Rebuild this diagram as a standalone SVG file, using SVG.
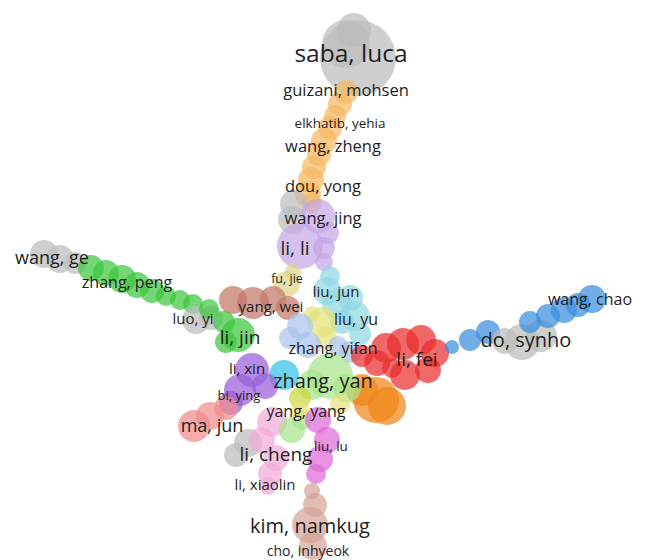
<svg xmlns="http://www.w3.org/2000/svg" width="646" height="560" viewBox="0 0 646 560">
<defs><filter id="soft" x="-10%" y="-10%" width="120%" height="120%"><feGaussianBlur stdDeviation="0.7"/></filter></defs>
<style>
circle{fill-opacity:0.72;stroke:none}
.gy{fill:#bdbdbd}.or{fill:#f5b862}.pl{fill:#c4a6e6}.pd{fill:#9a60d8}.gr{fill:#3ec63e}
.br{fill:#c27868}.cy{fill:#90d8e4}.ye{fill:#e6e27a}.lb{fill:#aac4ec}.rd{fill:#ea2e2c}
.bo{fill:#f0861a}.bl{fill:#3a8ede}.sa{fill:#f08c8c}.cb{fill:#30c4e4}.lg{fill:#a8e48c}
.pk{fill:#f2aad8}.mg{fill:#e06ad8}.tn{fill:#d4a498}.kh{fill:#dcd68a}.yg{fill:#c8d840}
text{font-family:"Open Sans","Noto Sans","Liberation Sans",sans-serif;fill:#1e1e1e;text-anchor:middle}
</style>
<g id="connectors"/>
<g id="bubbles" filter="url(#soft)">
<g id="node-saba-luca">
<circle class="gy" cx="354" cy="30" r="17"/><circle class="gy" cx="358" cy="58" r="38"/><circle class="gy" cx="346" cy="44" r="24"/>
</g>
<g id="node-guizani-mohsen">
<circle class="or" cx="346" cy="92" r="12"/><circle class="or" cx="340" cy="104" r="12"/><circle class="or" cx="335" cy="116" r="11"/>
</g>
<g id="node-elkhatib-yehia"><circle class="or" cx="330" cy="128" r="12"/></g>
<g id="node-wang-zheng">
<circle class="or" cx="324" cy="141" r="13"/><circle class="or" cx="319" cy="154" r="12"/><circle class="or" cx="314" cy="167" r="12"/>
</g>
<g id="node-dou-yong">
<circle class="or" cx="311" cy="180" r="13"/><circle class="or" cx="308" cy="194" r="13"/><circle class="or" cx="312" cy="203" r="10"/>
<circle class="gy" cx="294" cy="204" r="14"/><circle class="gy" cx="292" cy="220" r="14"/>
</g>
<g id="node-wang-jing">
<circle class="pl" cx="318" cy="216" r="17"/><circle class="pl" cx="328" cy="233" r="11"/>
</g>
<g id="node-li-li">
<circle class="pl" cx="300" cy="246" r="23"/><circle class="pl" cx="324" cy="248" r="11"/><circle class="pl" cx="324" cy="262" r="9"/>
</g>
<g id="node-fu-jie"><circle class="kh" cx="287" cy="284" r="13"/><circle class="kh" cx="293" cy="272" r="8"/></g>
<g id="node-liu-jun">
<circle class="cy" cx="330" cy="276" r="10"/><circle class="cy" cx="327" cy="291" r="14"/><circle class="cy" cx="337" cy="304" r="15"/><circle class="cy" cx="350" cy="298" r="13"/>
</g>
<g id="node-liu-yu">
<circle class="cy" cx="355" cy="316" r="15"/><circle class="cy" cx="342" cy="322" r="12"/><circle class="cy" cx="360" cy="334" r="11"/>
<circle class="ye" cx="322" cy="322" r="15"/><circle class="ye" cx="326" cy="338" r="11"/><circle class="ye" cx="312" cy="314" r="8"/>
</g>
<g id="node-yang-wei">
<circle class="br" cx="233" cy="300" r="14"/><circle class="br" cx="253" cy="303" r="16"/><circle class="br" cx="273" cy="299" r="13"/><circle class="br" cx="288" cy="308" r="12"/>
</g>
<g id="node-wang-ge">
<circle class="gy" cx="44" cy="254" r="14"/><circle class="gy" cx="60" cy="259" r="14"/><circle class="gy" cx="75" cy="263" r="11"/>
</g>
<g id="node-zhang-peng">
<circle class="gr" cx="91" cy="268" r="13"/><circle class="gr" cx="106" cy="273" r="13"/><circle class="gr" cx="122" cy="279" r="14"/><circle class="gr" cx="137" cy="285" r="13"/><circle class="gr" cx="152" cy="291" r="12"/><circle class="gr" cx="166" cy="296" r="10"/><circle class="gr" cx="180" cy="300" r="10"/><circle class="gr" cx="193" cy="304" r="10"/>
</g>
<g id="node-luo-yi">
<circle class="gy" cx="196" cy="320" r="14"/><circle class="gy" cx="211" cy="318" r="12"/><circle class="gr" cx="209" cy="309" r="10"/>
</g>
<g id="node-li-jin">
<circle class="gr" cx="238" cy="335" r="17"/><circle class="gr" cx="224" cy="322" r="11"/><circle class="gr" cx="226" cy="342" r="11"/>
</g>
<g id="node-zhang-yifan">
<circle class="lb" cx="300" cy="326" r="13"/><circle class="lb" cx="290" cy="338" r="11"/><circle class="lb" cx="308" cy="345" r="13"/><circle class="lb" cx="350" cy="352" r="11"/><circle class="lb" cx="338" cy="346" r="10"/>
</g>
<g id="node-li-fei">
<circle class="rd" cx="362" cy="356" r="11"/><circle class="rd" cx="377" cy="363" r="13"/><circle class="rd" cx="386" cy="348" r="15"/><circle class="rd" cx="403" cy="344" r="16"/><circle class="rd" cx="421" cy="340" r="15"/><circle class="rd" cx="435" cy="353" r="14"/><circle class="rd" cx="428" cy="370" r="13"/><circle class="rd" cx="405" cy="375" r="15"/><circle class="rd" cx="392" cy="368" r="10"/>
</g>
<g id="node-do-synho">
<circle class="bl" cx="452" cy="347" r="7"/><circle class="bl" cx="470" cy="340" r="11"/><circle class="bl" cx="488" cy="332" r="12"/>
<circle class="gy" cx="505" cy="341" r="13"/><circle class="gy" cx="522" cy="342" r="18"/><circle class="gy" cx="541" cy="336" r="16"/>
</g>
<g id="node-wang-chao">
<circle class="bl" cx="530" cy="322" r="11"/><circle class="bl" cx="548" cy="316" r="12"/><circle class="bl" cx="564" cy="310" r="13"/><circle class="bl" cx="578" cy="305" r="12"/><circle class="bl" cx="592" cy="299" r="14"/>
</g>
<g id="node-zhang-yan">
<circle class="bo" cx="362" cy="390" r="16"/><circle class="bo" cx="376" cy="400" r="23"/><circle class="bo" cx="387" cy="406" r="19"/>
<circle class="cb" cx="284" cy="375" r="15"/>
<circle class="lg" cx="312" cy="385" r="15"/><circle class="lg" cx="330" cy="376" r="23"/><circle class="lg" cx="347" cy="388" r="14"/>
<circle class="yg" cx="300" cy="398" r="11"/><circle class="ye" cx="340" cy="404" r="10"/>
</g>
<g id="node-li-xin">
<circle class="pd" cx="252" cy="370" r="17"/><circle class="pd" cx="265" cy="386" r="13"/>
</g>
<g id="node-bi-ying">
<circle class="pd" cx="240" cy="390" r="16"/><circle class="pd" cx="231" cy="403" r="12"/>
</g>
<g id="node-ma-jun">
<circle class="sa" cx="194" cy="426" r="16"/><circle class="sa" cx="210" cy="416" r="14"/><circle class="sa" cx="226" cy="408" r="12"/>
</g>
<g id="node-yang-yang">
<circle class="pk" cx="272" cy="422" r="15"/><circle class="lg" cx="292" cy="430" r="13"/><circle class="lg" cx="302" cy="420" r="10"/><circle class="ye" cx="300" cy="410" r="9"/>
</g>
<g id="node-li-cheng">
<circle class="gy" cx="248" cy="443" r="14"/><circle class="gy" cx="236" cy="455" r="12"/>
<circle class="pk" cx="262" cy="440" r="13"/><circle class="pk" cx="276" cy="458" r="13"/>
</g>
<g id="node-liu-lu">
<circle class="mg" cx="318" cy="420" r="13"/><circle class="mg" cx="327" cy="440" r="13"/><circle class="mg" cx="320" cy="459" r="13"/><circle class="mg" cx="316" cy="474" r="10"/>
</g>
<g id="node-li-xiaolin"><circle class="pk" cx="270" cy="474" r="12"/><circle class="pk" cx="268" cy="486" r="9"/></g>
<g id="node-kim-namkug">
<circle class="tn" cx="312" cy="491" r="8"/><circle class="tn" cx="315" cy="505" r="12"/><circle class="tn" cx="310" cy="525" r="18"/>
</g>
<g id="node-cho-inhyeok"><circle class="tn" cx="313" cy="546" r="14"/></g>
</g>
<g id="labels">
<text x="351" y="62" font-size="24.5">saba, luca</text>
<text x="346" y="96" font-size="16.5">guizani, mohsen</text>
<text x="340" y="128" font-size="13.5">elkhatib, yehia</text>
<text x="333" y="152" font-size="16.5">wang, zheng</text>
<text x="323" y="192" font-size="16.5">dou, yong</text>
<text x="323" y="224" font-size="16.5">wang, jing</text>
<text x="295" y="255" font-size="19">li, li</text>
<text x="287" y="283" font-size="12.5">fu, jie</text>
<text x="336" y="297" font-size="15">liu, jun</text>
<text x="271" y="312" font-size="15">yang, wei</text>
<text x="356" y="325" font-size="16">liu, yu</text>
<text x="240" y="344" font-size="19">li, jin</text>
<text x="193" y="324" font-size="15">luo, yi</text>
<text x="52" y="264" font-size="18">wang, ge</text>
<text x="127" y="288" font-size="16">zhang, peng</text>
<text x="333" y="354" font-size="16">zhang, yifan</text>
<text x="417" y="366" font-size="19">li, fei</text>
<text x="526" y="347" font-size="20">do, synho</text>
<text x="590" y="305" font-size="16">wang, chao</text>
<text x="247" y="374" font-size="15">li, xin</text>
<text x="323" y="388" font-size="20">zhang, yan</text>
<text x="239" y="400" font-size="13">bi, ying</text>
<text x="306" y="417" font-size="16">yang, yang</text>
<text x="212" y="432" font-size="18">ma, jun</text>
<text x="276" y="461" font-size="19">li, cheng</text>
<text x="331" y="451" font-size="13.5">liu, lu</text>
<text x="265" y="490" font-size="15">li, xiaolin</text>
<text x="310" y="533" font-size="20">kim, namkug</text>
<text x="308" y="556" font-size="14">cho, inhyeok</text>
</g>
</svg>
